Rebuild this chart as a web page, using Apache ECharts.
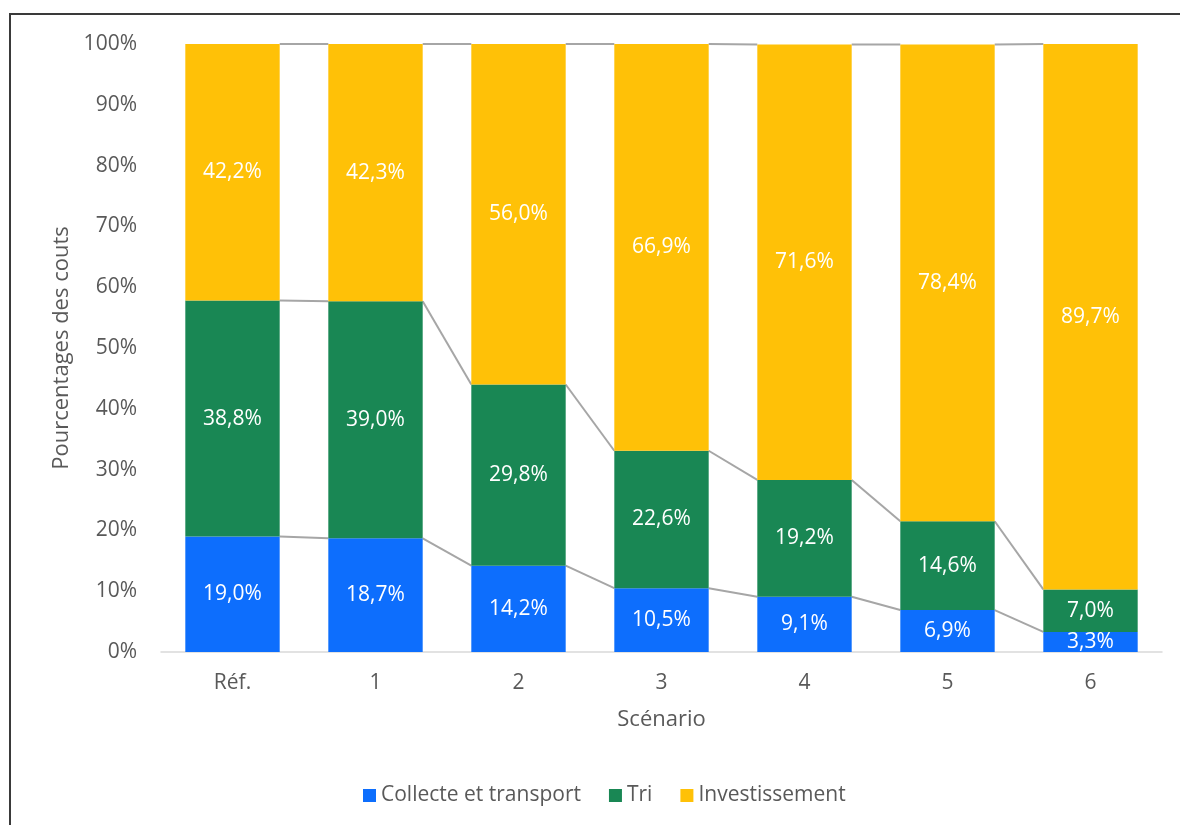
<!DOCTYPE html>
<html>
<head>
<meta charset="utf-8">
<script src="https://cdn.jsdelivr.net/npm/echarts@6/dist/echarts.min.js"></script>
<style>
  html, body { margin: 0; padding: 0; background: #fff; }
  #chart { width: 1180px; height: 825px; }
</style>
</head>
<body>
<div id="chart"></div>
<script>
// Répartition des coûts par scénario (en %)
const scenarios = ['Réf.', '1', '2', '3', '4', '5', '6'];
const collecte = [19.0, 18.7, 14.2, 10.5, 9.1, 6.9, 3.3];
const tri = [38.8, 39.0, 29.8, 22.6, 19.2, 14.6, 7.0];
const investissement = [42.2, 42.3, 56.0, 66.9, 71.6, 78.4, 89.7];
const yTicks = [0, 10, 20, 30, 40, 50, 60, 70, 80, 90, 100];

const COLORS = { collecte: '#0d6efd', tri: '#198754', invest: '#ffc107' };
const FONT = 'Open Sans';
const TEXT = '#595959';
const BAR_RATIO = 0.66;

// cumulative tops of each stack layer, used for the connecting series lines
const layers = [collecte, tri, investissement];
const cumul = scenarios.map((_, i) => {
  let s = 0;
  return layers.map(l => (s += l[i]));
});

const fmt = v => v.toFixed(1).replace('.', ',') + '%';

const labelStyle = {
  show: true,
  position: 'inside',
  color: '#ffffff',
  fontFamily: FONT,
  fontSize: 21,
  formatter: p => fmt(p.value)
};

const chart = echarts.init(document.getElementById('chart'), null, { renderer: 'canvas' });

const barSeries = (name, data, color) => ({
  name,
  type: 'bar',
  stack: 'total',
  data,
  barCategoryGap: ((1 - BAR_RATIO) * 100) + '%',
  itemStyle: { color },
  label: labelStyle,
  emphasis: { disabled: true },
  z: 3
});

chart.setOption({
  animation: false,
  backgroundColor: '#ffffff',
  textStyle: { fontFamily: FONT },
  graphic: [{
    type: 'rect',
    shape: { x: 10, y: 14, width: 1200, height: 900 },
    style: { fill: 'none', stroke: '#3a3a3a', lineWidth: 2 },
    silent: true,
    z: 0
  }],
  grid: { left: 161, right: 18, top: 44, bottom: 173 },
  legend: {
    top: 780,
    left: 358,
    itemWidth: 13,
    itemHeight: 13,
    itemGap: 28,
    icon: 'rect',
    textStyle: { color: TEXT, fontSize: 21, fontFamily: FONT },
    data: ['Collecte et transport', 'Tri', 'Investissement']
  },
  xAxis: {
    type: 'category',
    data: scenarios,
    name: 'Scénario',
    nameLocation: 'middle',
    nameGap: 57,
    nameTextStyle: { color: TEXT, fontSize: 22, fontFamily: FONT },
    axisLine: { lineStyle: { color: '#d9d9d9', width: 1.5 } },
    axisTick: { show: false },
    axisLabel: { color: TEXT, fontSize: 21, fontFamily: FONT, margin: 21 }
  },
  yAxis: {
    type: 'value',
    min: yTicks[0],
    max: yTicks[yTicks.length - 1],
    interval: yTicks[1] - yTicks[0],
    name: 'Pourcentages des couts',
    nameLocation: 'middle',
    nameGap: 88,
    nameTextStyle: { color: TEXT, fontSize: 22, fontFamily: FONT },
    splitLine: { show: false },
    axisLine: { show: false },
    axisTick: { show: false },
    axisLabel: { color: TEXT, fontSize: 21, fontFamily: FONT, margin: 24, formatter: v => v + '%' }
  },
  series: [
    barSeries('Collecte et transport', collecte, COLORS.collecte),
    barSeries('Tri', tri, COLORS.tri),
    barSeries('Investissement', investissement, COLORS.invest),
    {
      // series lines joining the top of each layer from one bar to the next
      type: 'custom',
      name: 'lignes',
      silent: true,
      z: 2,
      data: scenarios.slice(0, -1).map((_, i) => [i]),
      renderItem: (params, api) => {
        const i = api.value(0);
        const band = api.size([1, 0])[0];
        const half = band * BAR_RATIO / 2;
        const children = cumul[i].map((v, k) => {
          const a = api.coord([i, v]);
          const b = api.coord([i + 1, cumul[i + 1][k]]);
          return {
            type: 'line',
            shape: { x1: a[0] + half, y1: a[1], x2: b[0] - half, y2: b[1] },
            style: { stroke: '#a6a6a6', lineWidth: 2 }
          };
        });
        return { type: 'group', children };
      }
    }
  ]
});
</script>
</body>
</html>
